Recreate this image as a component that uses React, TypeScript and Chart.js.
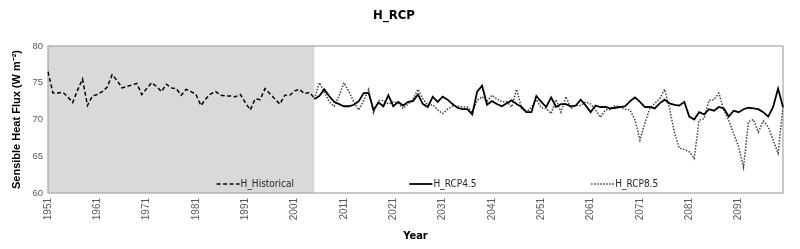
import React, { useEffect, useRef } from 'react';
import { Chart, registerables } from 'chart.js';

Chart.register(...registerables);

const firstYear = 1951;
const lastYear = 2100;
const years: string[] = [];
for (let y = firstYear; y <= lastYear; y++) years.push(String(y));

const historicalStart = 1951;
const historical: number[] = [
  76.5, 73.6, 73.6, 73.7, 73.1, 72.3, 74.0, 75.5, 71.9, 73.2,
  73.4, 73.8, 74.4, 76.1, 75.3, 74.3, 74.5, 74.7, 74.9, 73.4,
  74.2, 75.0, 74.5, 73.8, 74.8, 74.3, 74.2, 73.3, 74.1, 73.8,
  73.4, 71.9, 72.8, 73.5, 73.8, 73.3, 73.2, 73.2, 73.1, 73.4,
  72.3, 71.3, 72.8, 72.7, 74.2, 73.5, 72.8, 72.1, 73.3, 73.3,
  73.9, 74.1, 73.5, 73.7, 72.9,
];

const rcpStart = 2005;
const rcp45: number[] = [
  72.8, 73.2, 74.1, 73.2, 72.4, 72.1, 71.8, 71.8, 72.0, 72.5,
  73.6, 73.6, 71.3, 72.3, 71.8, 73.3, 71.8, 72.4, 71.9, 72.4,
  72.5, 73.4, 72.1, 71.7, 73.1, 72.4, 73.1, 72.7, 72.1, 71.6,
  71.4, 71.4, 70.7, 73.8, 74.6, 72.0, 72.5, 72.1, 71.8, 72.2,
  72.6, 72.1, 71.7, 71.0, 71.0, 73.2, 72.4, 71.7, 73.0, 71.7,
  72.1, 72.1, 71.8, 71.9, 72.7, 71.9, 71.0, 71.9, 71.7, 71.7,
  71.5, 71.6, 71.7, 71.8, 72.5, 73.0, 72.4, 71.7, 71.7, 71.5,
  72.2, 72.7, 72.2, 72.0, 71.9, 72.4, 70.4, 70.0, 71.0, 70.7,
  71.4, 71.2, 71.7, 71.5, 70.4, 71.2, 71.0, 71.4, 71.6, 71.5,
  71.4, 71.0, 70.4, 71.7, 74.2, 71.7,
];
const rcp85: number[] = [
  72.8, 75.0, 73.8, 72.4, 71.8, 73.2, 75.0, 73.8, 72.4, 71.3,
  72.6, 74.1, 70.9, 72.6, 72.6, 72.1, 72.4, 72.2, 71.5, 72.1,
  72.8, 74.1, 72.8, 71.9, 72.0, 71.3, 70.8, 71.4, 71.8, 71.8,
  71.7, 71.7, 71.0, 72.6, 73.1, 72.5, 73.3, 72.8, 72.4, 72.4,
  71.7, 74.1, 71.5, 71.0, 71.7, 72.7, 71.6, 71.5, 70.8, 72.7,
  71.0, 73.1, 71.5, 71.9, 71.9, 72.4, 72.1, 71.3, 70.3, 71.3,
  71.4, 71.9, 71.7, 71.4, 71.3, 69.9, 67.2, 69.5, 71.5, 72.2,
  72.8, 74.1, 71.5, 68.2, 66.1, 65.9, 65.6, 64.7, 69.9, 70.1,
  72.6, 72.7, 73.6, 71.3, 69.9, 68.1, 66.3, 63.5, 69.7, 70.0,
  68.3, 69.8, 69.0, 67.2, 65.4, 71.7,
];

const yMin = 60;
const yMax = 80;
const yStep = 5;

const seriesNames = ['H_Historical', 'H_RCP4.5', 'H_RCP8.5'];

function align(start: number, values: number[]): (number | null)[] {
  const out: (number | null)[] = years.map(() => null);
  values.forEach((v, i) => {
    out[start - firstYear + i] = v;
  });
  return out;
}

const NARROW = "'Liberation Sans Narrow', 'DejaVu Sans Condensed', sans-serif";
const ARIAL = "'Liberation Sans', Arial, sans-serif";

const decorPlugin = {
  id: 'decor',
  beforeDatasetsDraw(chart: any) {
    const { ctx, chartArea, scales } = chart;
    const endIdx = historicalStart - firstYear + historical.length - 1;
    const xEnd = scales.x.getPixelForValue(endIdx);
    ctx.save();
    ctx.fillStyle = '#d9d9d9';
    ctx.fillRect(chartArea.left, chartArea.top, xEnd - chartArea.left, chartArea.bottom - chartArea.top);
    ctx.strokeStyle = '#a6a6a6';
    ctx.lineWidth = 1.2;
    ctx.strokeRect(chartArea.left, chartArea.top, chartArea.right - chartArea.left, chartArea.bottom - chartArea.top);
    ctx.restore();
  },
  afterDatasetsDraw(chart: any) {
    const { ctx, chartArea } = chart;
    const w = chartArea.right - chartArea.left;
    const fracs = [0.2294, 0.4917, 0.739];
    const y = chartArea.bottom - 9;
    ctx.save();
    chart.data.datasets.forEach((ds: any, i: number) => {
      const sx = chartArea.left + fracs[i] * w;
      ctx.beginPath();
      ctx.setLineDash(ds.borderDash || []);
      ctx.strokeStyle = ds.borderColor;
      ctx.lineWidth = ds.borderWidth;
      ctx.moveTo(sx, y);
      ctx.lineTo(sx + 23, y);
      ctx.stroke();
      ctx.setLineDash([]);
      ctx.fillStyle = '#262626';
      ctx.font = `10px ${NARROW}`;
      ctx.textBaseline = 'middle';
      ctx.textAlign = 'left';
      ctx.fillText(ds.label, sx + 24, y);
    });
    ctx.restore();
  },
};

export default function App() {
  const ref = useRef<HTMLCanvasElement | null>(null);

  useEffect(() => {
    if (!ref.current) return;
    const chart = new Chart(ref.current, {
      type: 'line',
      data: {
        labels: years,
        datasets: [
          {
            label: seriesNames[0],
            data: align(historicalStart, historical),
            borderColor: '#000000',
            borderWidth: 1.5,
            borderDash: [4, 2.5],
            pointRadius: 0,
            tension: 0,
            spanGaps: false,
          },
          {
            label: seriesNames[1],
            data: align(rcpStart, rcp45),
            borderColor: '#000000',
            borderWidth: 1.8,
            pointRadius: 0,
            tension: 0,
            spanGaps: false,
          },
          {
            label: seriesNames[2],
            data: align(rcpStart, rcp85),
            borderColor: '#404040',
            borderWidth: 1.5,
            borderDash: [1.5, 1.5],
            pointRadius: 0,
            tension: 0,
            spanGaps: false,
          },
        ],
      },
      options: {
        animation: false,
        responsive: true,
        maintainAspectRatio: false,
        layout: { padding: { left: 0, right: 12, top: 0, bottom: 0 } },
        plugins: {
          legend: { display: false },
          tooltip: { enabled: false },
          title: {
            display: true,
            text: 'H_RCP',
            color: '#000000',
            font: { family: NARROW, size: 13, weight: 'bold' },
            padding: { top: 8, bottom: 22.4 },
          },
        },
        scales: {
          x: {
            type: 'category',
            offset: false,
            grid: { display: false, drawTicks: false },
            border: { display: false },
            afterFit: (scale: any) => {
              scale.height = 56;
            },
            ticks: {
              autoSkip: false,
              minRotation: 90,
              maxRotation: 90,
              padding: 5,
              color: '#595959',
              font: { family: ARIAL, size: 10 },
              callback: (_v: any, idx: number) => ((idx % 10 === 0) ? years[idx] : ''),
            },
            title: {
              display: true,
              text: 'Year',
              color: '#000000',
              font: { family: NARROW, size: 11, weight: 'bold' },
              padding: { top: 0, bottom: 6.4 },
            },
          },
          y: {
            min: yMin,
            max: yMax,
            grid: { display: false, drawTicks: false },
            border: { display: false },
            afterFit: (scale: any) => {
              scale.width = 48;
            },
            ticks: {
              stepSize: yStep,
              padding: 5,
              color: '#595959',
              font: { family: ARIAL, size: 9.5 },
            },
            title: {
              display: true,
              text: 'Sensible Heat Flux (W m\u207B\u00B2)',
              color: '#000000',
              font: { family: ARIAL, size: 11, weight: 'bold' },
              padding: { top: 10.4, bottom: 0 },
            },
          },
        },
      },
      plugins: [decorPlugin],
    } as any);
    return () => chart.destroy();
  }, []);

  return (
    <div style={{ position: 'fixed', left: 0, top: 0, width: 800, height: 249 }}>
      <canvas ref={ref} />
    </div>
  );
}
